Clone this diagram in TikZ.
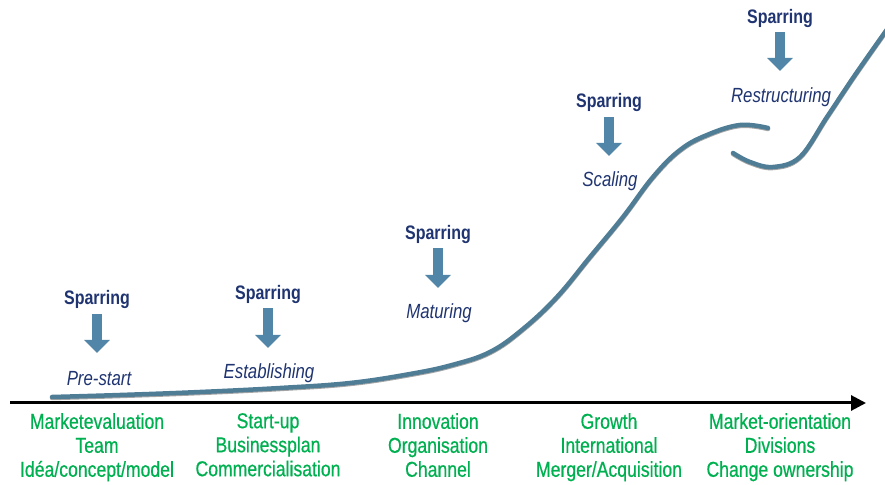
\documentclass[tikz,border=0pt]{standalone}
\usepackage{fontspec}
\setmainfont{Liberation Sans}[FakeStretch=0.82]
\newfontfamily\stagefont{Liberation Sans}[FakeStretch=0.82, FakeBold=0.6]
\usetikzlibrary{arrows.meta}
\definecolor{navy}{HTML}{1F3470}
\definecolor{arrowblue}{HTML}{5186A8}
\definecolor{curveblue}{HTML}{4F7D96}
\definecolor{stagegreen}{HTML}{00B050}
\tikzset{
  spar/.style={font=\fontsize{19.5}{23}\selectfont\bfseries, text=navy, inner sep=0pt},
  phase/.style={font=\fontsize{20.5}{23}\selectfont\itshape, text=navy, inner sep=0pt},
  stage/.style={font=\stagefont\fontsize{21.5}{24}\selectfont, text=stagegreen, align=center, inner sep=0pt, anchor=north},
  sparrow/.style={draw=arrowblue, line width=10pt, -{Triangle[width=25pt,length=13pt]}},
  axis/.style={draw=black, line width=3pt, -{Triangle[width=15pt,length=15pt]}},
  curve/.style={draw=curveblue, line width=4.5pt, line cap=round},
  curveshadow/.style={draw=gray!70, line width=4.5pt, line cap=round},
}
\begin{document}
\begin{tikzpicture}[x=1pt,y=1pt]
\useasboundingbox (0,0) rectangle (885,484);
% axis
\coordinate (ax0) at (10,81);
\coordinate (ax1) at (866,81);
\draw[axis] (ax0) -- (ax1);
% curve
\def\curveA{(52,87) (120,89) (200,92) (280,96) (350,101) (410,110) (452,119) (490,132) (523,155) (557,187) (590,227) (623,267) (653,307) (680,334) (707,349) (740,359) (768,356)}
\def\curveB{(733,331) (750,322) (773,317) (800,327) (827,367) (855,409) (888,456)}
\begin{scope}
\clip (0,0) rectangle (885,484);
\draw[curveshadow, yshift=-1pt] plot[smooth, tension=0.65] coordinates {\curveA};
\draw[curve] plot[smooth, tension=0.65] coordinates {\curveA};
\draw[curveshadow, yshift=-1pt] plot[smooth, tension=0.6] coordinates {\curveB};
\draw[curve] plot[smooth, tension=0.6] coordinates {\curveB};
\end{scope}
% sparring labels
\node[spar] (s1) at (97,184) {Sparring};
\node[spar] (s2) at (268,189) {Sparring};
\node[spar] (s3) at (438,249) {Sparring};
\node[spar] (s4) at (609,381) {Sparring};
\node[spar] (s5) at (780,465) {Sparring};
% phase labels
\node[phase] (p1) at (99,105) {Pre-start};
\node[phase] (p2) at (269,111) {Establishing};
\node[phase] (p3) at (439,171) {Maturing};
\node[phase] (p4) at (610,303) {Scaling};
\node[phase] (p5) at (781,387) {Restructuring};
% arrows
\coordinate (a1s) at (97,170); \coordinate (a1e) at (97,131);
\coordinate (a2s) at (268,176); \coordinate (a2e) at (268,136);
\coordinate (a3s) at (438,236); \coordinate (a3e) at (438,196);
\coordinate (a4s) at (609,367); \coordinate (a4e) at (609,328);
\coordinate (a5s) at (780,452); \coordinate (a5e) at (780,413);
\draw[sparrow] (a1s) -- (a1e);
\draw[sparrow] (a2s) -- (a2e);
\draw[sparrow] (a3s) -- (a3e);
\draw[sparrow] (a4s) -- (a4e);
\draw[sparrow] (a5s) -- (a5e);
% stages
\node[stage] (g1) at (97,71) {Marketevaluation\\Team\\Idéa/concept/model};
\node[stage] (g2) at (268,71) {Start-up\\Businessplan\\Commercialisation};
\node[stage] (g3) at (438,71) {Innovation\\Organisation\\Channel};
\node[stage] (g4) at (609,71) {Growth\\International\\Merger/Acquisition};
\node[stage] (g5) at (780,71) {Market-orientation\\Divisions\\Change ownership};
\end{tikzpicture}
\end{document}
